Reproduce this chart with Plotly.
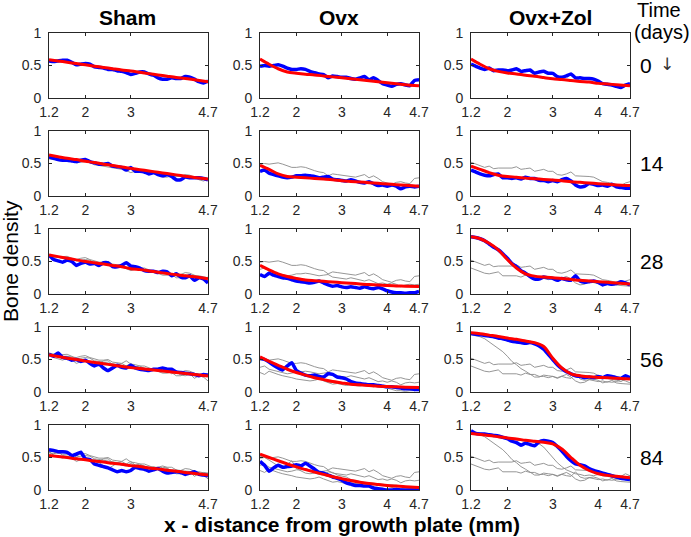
import plotly.graph_objects as go

# ---------------- data ----------------
x_grid = [1.2, 1.3, 1.4, 1.5, 1.6, 1.7, 1.8, 1.9, 2.0, 2.1, 2.2, 2.3, 2.4, 2.5, 2.6, 2.7, 2.8, 2.9,
          3.0, 3.1, 3.2, 3.3, 3.4, 3.5, 3.6, 3.7, 3.8, 3.9, 4.0, 4.1, 4.2, 4.3, 4.4, 4.5, 4.6, 4.7]
fit_x = [1.2, 1.4, 1.6, 1.8, 2.0, 2.2, 2.4, 2.6, 2.8, 3.0, 3.2, 3.4, 3.6, 3.8, 4.0, 4.2, 4.4, 4.7]

groups = ["Sham", "Ovx", "Ovx+Zol"]
days = ["0", "14", "28", "56", "84"]

sham_tickvals = [1.2, 2, 3, 4.7]
other_tickvals = [1.2, 2, 3, 4, 4.7]
y_tickvals = [0, 0.5, 1]

# measured profiles (blue)
sham_0 = [.57, .56, .57, .58, .58, .55, .51, .52, .53, .52, .48, .47, .46, .44, .44, .42, .41, .39,
          .36, .38, .40, .40, .37, .35, .31, .29, .29, .31, .30, .30, .33, .32, .29, .25, .23, .26]
ovx_0 = [.49, .50, .49, .50, .51, .49, .46, .44, .44, .45, .44, .41, .39, .37, .36, .31, .34, .33,
         .32, .32, .30, .29, .31, .33, .28, .31, .27, .22, .20, .18, .21, .22, .20, .19, .27, .28]
zol_0 = [.52, .49, .46, .44, .46, .42, .43, .43, .42, .43, .45, .41, .42, .43, .38, .40, .41, .38,
         .38, .33, .32, .34, .37, .31, .31, .30, .30, .29, .26, .22, .21, .20, .18, .16, .20, .22]

sham_14 = [.60, .58, .56, .55, .55, .54, .53, .55, .56, .53, .51, .49, .49, .50, .46, .45, .44, .40,
           .44, .38, .38, .37, .34, .36, .33, .31, .33, .30, .25, .25, .29, .28, .28, .28, .27, .25]
ovx_14 = [.38, .40, .35, .33, .31, .29, .28, .29, .31, .31, .32, .31, .30, .28, .29, .30, .26, .25,
          .24, .23, .25, .23, .21, .20, .22, .19, .16, .17, .15, .17, .15, .11, .14, .15, .14, .15]
zol_14 = [.40, .37, .34, .32, .31, .33, .34, .28, .28, .27, .28, .26, .29, .27, .27, .24, .24, .22,
          .24, .22, .25, .27, .23, .17, .14, .15, .19, .18, .16, .17, .15, .18, .14, .13, .12, .12]

sham_28 = [.60, .53, .51, .49, .52, .50, .44, .47, .49, .46, .47, .44, .48, .48, .42, .42, .44, .48,
           .43, .42, .40, .36, .35, .35, .33, .35, .34, .28, .31, .26, .25, .28, .21, .25, .23, .17]
ovx_28 = [.30, .27, .32, .29, .27, .25, .24, .22, .20, .19, .18, .17, .18, .20, .17, .14, .12, .13,
          .11, .10, .11, .10, .09, .11, .09, .08, .10, .08, .05, .03, .02, .02, .01, .02, .02, .04]
zol_28 = [.88, .87, .85, .82, .77, .72, .68, .62, .55, .47, .42, .36, .32, .27, .23, .23, .26, .25,
          .24, .21, .24, .22, .21, .28, .20, .18, .19, .20, .18, .14, .16, .15, .16, .19, .17, .14]

sham_56 = [.58, .55, .60, .53, .52, .49, .50, .47, .49, .44, .40, .43, .37, .33, .37, .41, .38, .37,
           .41, .37, .35, .34, .33, .35, .35, .37, .35, .35, .31, .30, .29, .28, .27, .25, .27, .26]
ovx_56 = [.52, .50, .46, .41, .37, .34, .40, .45, .33, .29, .26, .25, .26, .24, .23, .28, .27, .23,
          .22, .20, .16, .14, .13, .12, .11, .11, .10, .09, .08, .08, .07, .06, .05, .05, .04, .04]
zol_56 = [.90, .89, .88, .87, .86, .85, .83, .82, .80, .78, .77, .76, .75, .76, .74, .71, .66, .58,
          .50, .42, .36, .31, .28, .25, .24, .22, .23, .22, .24, .22, .25, .24, .22, .21, .25, .22]

sham_84 = [.62, .61, .59, .59, .58, .53, .55, .58, .48, .47, .40, .38, .36, .34, .31, .28, .30, .28,
           .30, .35, .33, .32, .29, .31, .33, .29, .26, .27, .28, .27, .24, .26, .28, .24, .23, .22]
ovx_84 = [.44, .38, .29, .34, .38, .35, .36, .37, .39, .37, .41, .37, .32, .27, .26, .23, .20, .18,
          .15, .11, .09, .07, .07, .06, .06, .03, .02, .01, .00, .00, .01, .00, .00, .00, .00, .00]
zol_84 = [.91, .87, .86, .86, .85, .84, .83, .81, .79, .75, .73, .69, .72, .70, .68, .74, .76, .75,
          .73, .67, .60, .52, .45, .40, .39, .37, .33, .30, .28, .26, .24, .22, .20, .18, .17, .16]

# model fits (red)
sham_fit_0 = [.59, .57, .55, .53, .51, .49, .47, .45, .43, .415, .395, .375, .355, .335, .315, .30, .28, .25]
ovx_fit_0 = [.60, .52, .45, .40, .38, .365, .355, .34, .325, .31, .295, .28, .265, .25, .235, .22, .205, .19]
zol_fit_0 = [.60, .52, .45, .41, .385, .37, .35, .335, .315, .295, .285, .27, .255, .245, .225, .215, .205, .19]

sham_fit_14 = [.63, .605, .58, .56, .535, .515, .49, .47, .445, .425, .405, .385, .365, .345, .325, .305, .285, .26]
ovx_fit_14 = [.47, .41, .34, .30, .29, .28, .27, .26, .25, .235, .225, .215, .205, .195, .185, .175, .165, .15]
zol_fit_14 = [.46, .41, .36, .32, .30, .29, .275, .265, .255, .245, .235, .22, .21, .20, .19, .18, .17, .16]

sham_fit_28 = [.60, .575, .55, .525, .50, .48, .46, .44, .42, .39, .375, .355, .335, .315, .295, .28, .265, .235]
ovx_fit_28 = [.44, .37, .31, .27, .24, .215, .205, .195, .185, .175, .165, .155, .145, .14, .13, .125, .12, .115]
zol_fit_28 = [.88, .85, .78, .68, .53, .40, .31, .275, .26, .25, .24, .225, .21, .20, .19, .18, .17, .155]

sham_fit_56 = [.57, .545, .52, .50, .475, .455, .435, .415, .395, .375, .36, .345, .33, .315, .30, .285, .27, .245]
ovx_fit_56 = [.54, .47, .41, .35, .30, .26, .22, .19, .16, .14, .12, .11, .10, .09, .085, .08, .075, .07]
zol_fit_56 = [.91, .895, .875, .855, .83, .81, .785, .76, .70, .52, .37, .28, .25, .235, .225, .22, .21, .20]

sham_fit_84 = [.53, .515, .50, .48, .465, .445, .43, .41, .395, .375, .36, .34, .325, .305, .29, .27, .255, .23]
ovx_fit_84 = [.55, .50, .45, .40, .355, .315, .275, .24, .205, .175, .145, .12, .10, .085, .07, .06, .05, .04]
zol_fit_84 = [.87, .855, .84, .82, .80, .785, .765, .75, .735, .71, .63, .50, .38, .30, .25, .225, .21, .19]

blue = [[sham_0, ovx_0, zol_0],
        [sham_14, ovx_14, zol_14],
        [sham_28, ovx_28, zol_28],
        [sham_56, ovx_56, zol_56],
        [sham_84, ovx_84, zol_84]]
red = [[sham_fit_0, ovx_fit_0, zol_fit_0],
       [sham_fit_14, ovx_fit_14, zol_fit_14],
       [sham_fit_28, ovx_fit_28, zol_fit_28],
       [sham_fit_56, ovx_fit_56, zol_fit_56],
       [sham_fit_84, ovx_fit_84, zol_fit_84]]

# ---------------- layout geometry (pixels) ----------------
W, H = 691, 537
col_px = [(49, 208), (260, 419), (471, 630)]
row_top = [33, 131, 229, 327, 425]
row_h = 65

FONT = "Liberation Sans, Arial, Helvetica, sans-serif"
AX = "#262626"

fig = go.Figure()
layout = {}
for r in range(5):
    for c in range(3):
        idx = r * 3 + c + 1
        xa = "x" if idx == 1 else f"x{idx}"
        ya = "y" if idx == 1 else f"y{idx}"
        # previous days as gray
        for pr in range(r):
            fig.add_trace(go.Scatter(x=x_grid, y=blue[pr][c], mode="lines",
                                     line=dict(color="#8a8a8a", width=0.9),
                                     xaxis=xa, yaxis=ya, showlegend=False, hoverinfo="skip"))
        fig.add_trace(go.Scatter(x=x_grid, y=blue[r][c], mode="lines",
                                 line=dict(color="#0000ff", width=3.5, shape="spline", smoothing=0.4),
                                 xaxis=xa, yaxis=ya, showlegend=False))
        fig.add_trace(go.Scatter(x=fit_x, y=red[r][c], mode="lines",
                                 line=dict(color="#ff0000", width=3, shape="spline", smoothing=0.8),
                                 xaxis=xa, yaxis=ya, showlegend=False))
        x0, x1 = col_px[c]
        y0 = row_top[r]
        y1 = y0 + row_h
        tv = sham_tickvals if c == 0 else other_tickvals
        axis_common = dict(showgrid=False, zeroline=False, showline=True, mirror="ticks",
                           linecolor=AX, linewidth=0.8, ticks="inside", ticklen=3,
                           tickcolor=AX, tickwidth=0.8, automargin=False,
                           tickfont=dict(family=FONT, size=14, color=AX))
        layout["xaxis" if idx == 1 else f"xaxis{idx}"] = dict(
            domain=[x0 / W, x1 / W], range=[1.2, 4.7], anchor=ya, ticklabelstandoff=1,
            tickvals=tv, ticktext=[("%g" % v) for v in tv], **axis_common)
        layout["yaxis" if idx == 1 else f"yaxis{idx}"] = dict(
            domain=[1 - y1 / H, 1 - y0 / H], range=[0, 1], anchor=xa, ticklabelstandoff=4,
            tickvals=y_tickvals, ticktext=["0", "0.5", "1"], **axis_common)

annotations = []
col_centers = [128, 339, 550]
for c, g in enumerate(groups):
    annotations.append(dict(text=f"<b>{g}</b>", x=col_centers[c] / W, y=1 - 18 / H,
                            xref="paper", yref="paper", showarrow=False,
                            font=dict(family=FONT, size=21, color="black"),
                            xanchor="center", yanchor="middle"))
annotations.append(dict(text="Time", x=659 / W, y=1 - 10 / H, xref="paper", yref="paper",
                        showarrow=False, font=dict(family=FONT, size=20, color="black"),
                        xanchor="center", yanchor="middle"))
annotations.append(dict(text="(days)", x=662 / W, y=1 - 32 / H, xref="paper", yref="paper",
                        showarrow=False, font=dict(family=FONT, size=20, color="black"),
                        xanchor="center", yanchor="middle"))
for r, d in enumerate(days):
    yc = row_top[r] + row_h / 2
    annotations.append(dict(text=d, x=638 / W, y=1 - yc / H, xref="paper", yref="paper",
                            showarrow=False, font=dict(family=FONT, size=21, color="black"),
                            xanchor="left", yanchor="middle"))
annotations.append(dict(text="\u2193", x=667 / W, y=1 - 64 / H, xref="paper", yref="paper",
                        showarrow=False, font=dict(family="DejaVu Sans", size=17, color="#333333"),
                        xanchor="center", yanchor="middle"))
annotations.append(dict(text="Bone density", x=10 / W, y=1 - 261 / H, xref="paper", yref="paper",
                        showarrow=False, textangle=-90,
                        font=dict(family=FONT, size=21, color="black"),
                        xanchor="center", yanchor="middle"))
annotations.append(dict(text="<b>x - distance from growth plate (mm)</b>", x=342 / W, y=1 - 524 / H,
                        xref="paper", yref="paper", showarrow=False,
                        font=dict(family=FONT, size=21, color="black"),
                        xanchor="center", yanchor="middle"))

fig.update_layout(width=W, height=H, margin=dict(l=0, r=0, t=0, b=0, autoexpand=False),
                  paper_bgcolor="white", plot_bgcolor="white",
                  annotations=annotations, **layout)

fig.write_html("out.html", config={"displayModeBar": False},
               post_script="document.body.style.margin='0';document.body.style.overflow='hidden';")
